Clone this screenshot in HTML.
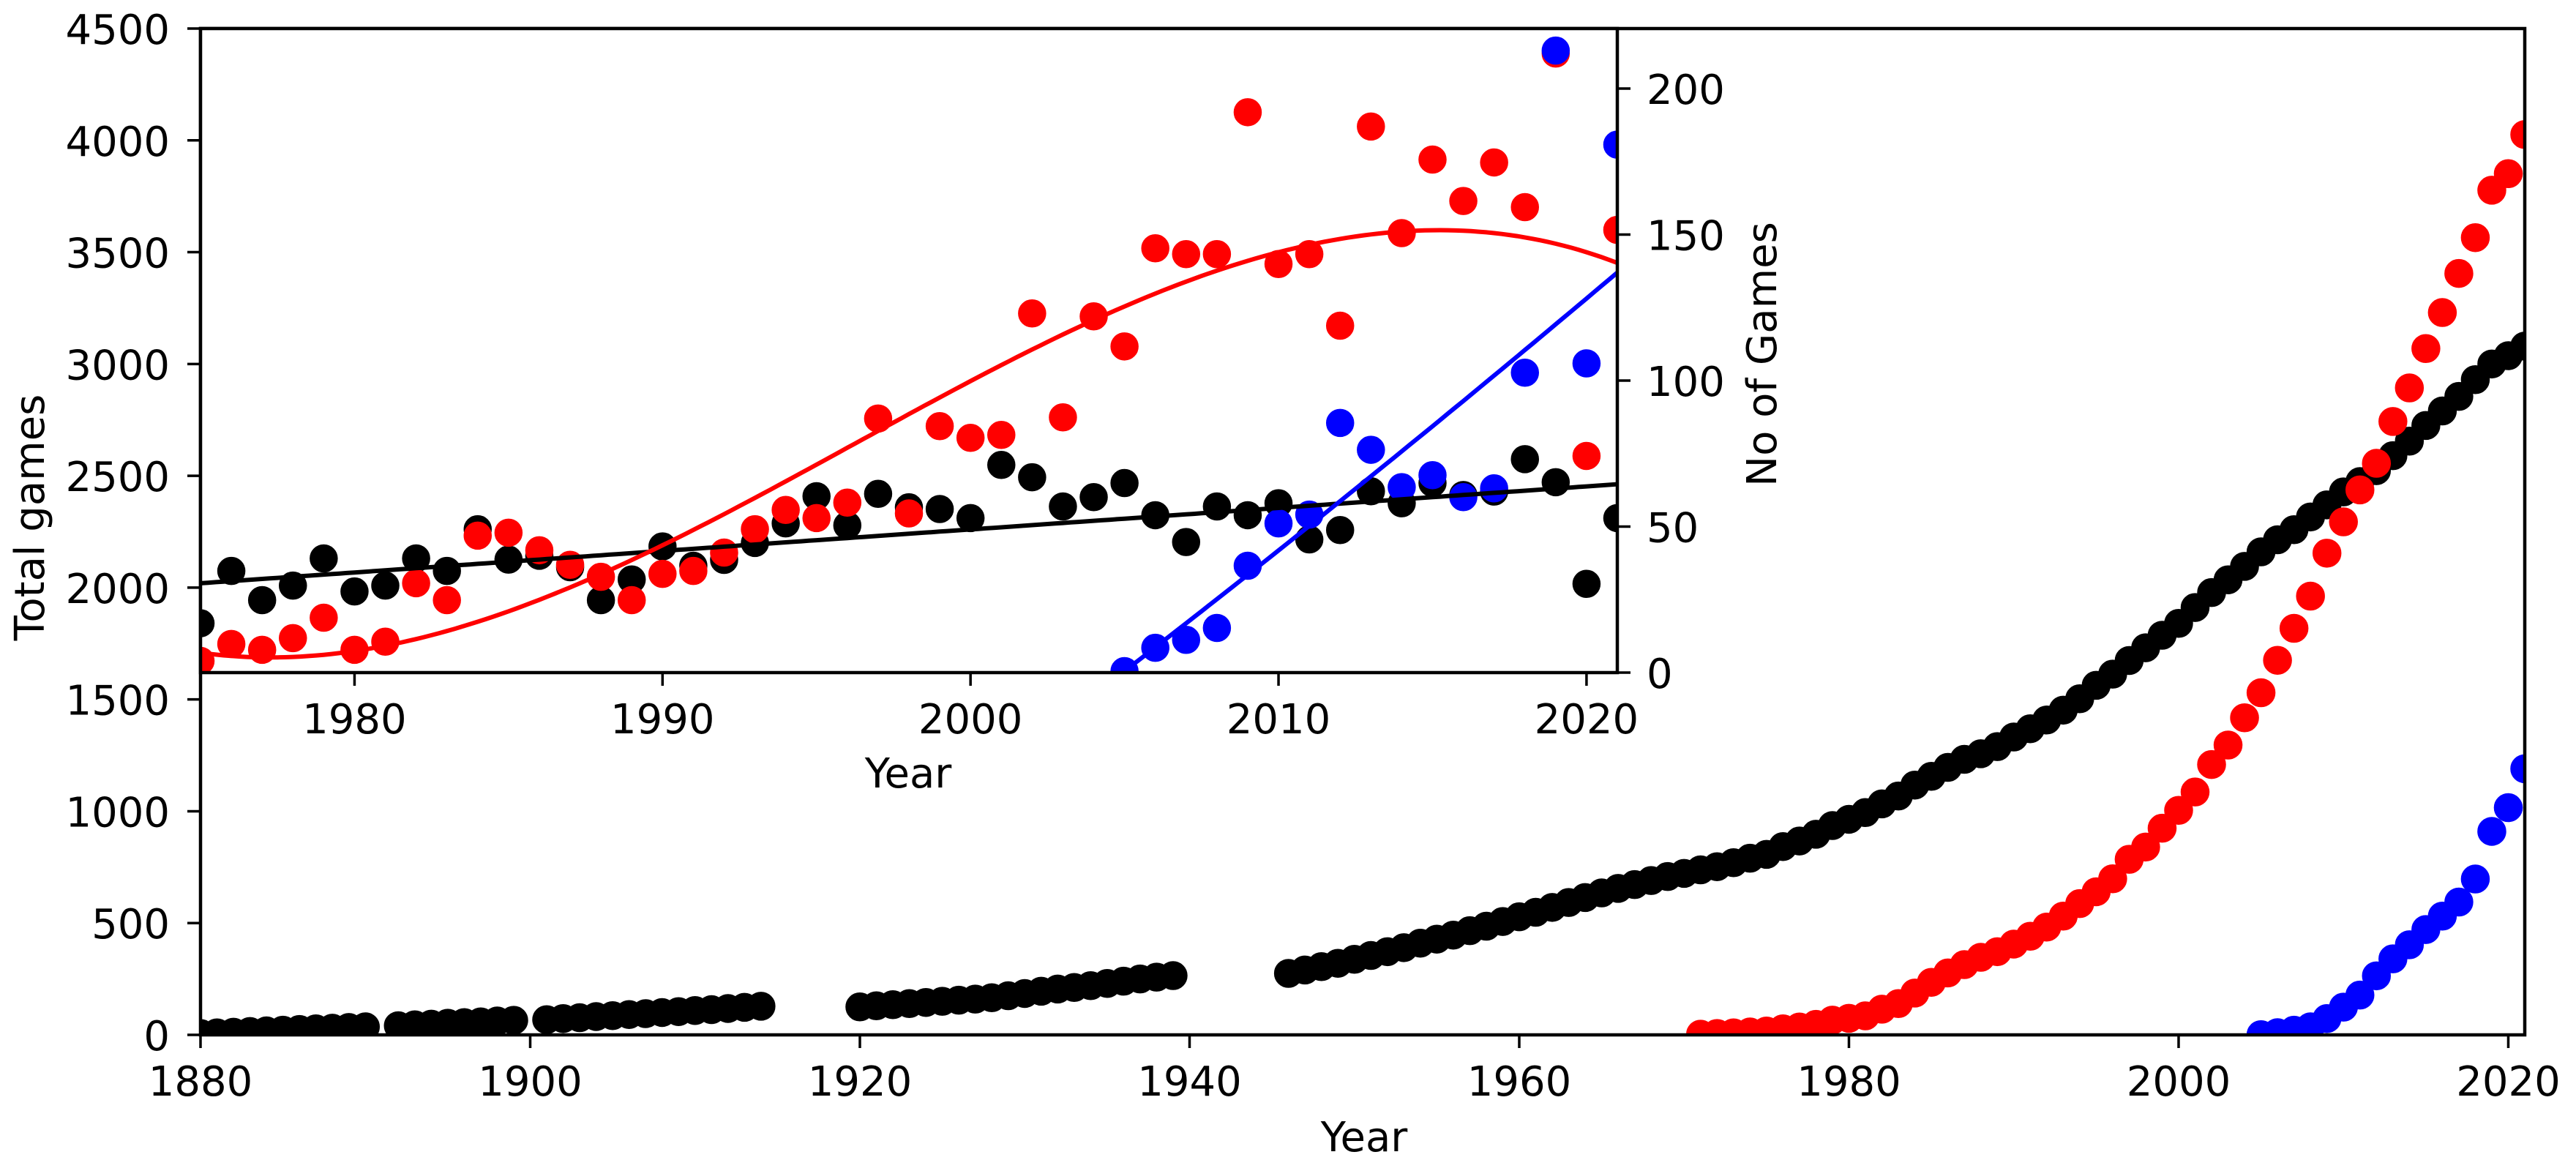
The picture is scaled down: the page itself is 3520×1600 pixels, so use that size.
<!DOCTYPE html>
<html><head><meta charset="utf-8"><style>
html,body{margin:0;padding:0;background:#fff;}
svg{display:block;font-family:"DejaVu Sans","Liberation Sans",sans-serif;}
</style></head><body>
<svg id="chart" width="3520" height="1600" viewBox="0 0 3520 1600" xmlns="http://www.w3.org/2000/svg">
<defs>
<clipPath id="mainClip"><rect x="274" y="39" width="3176" height="1375"/></clipPath>
<clipPath id="insetClip"><rect x="274" y="39" width="1936" height="880"/></clipPath>
</defs>
<rect x="0" y="0" width="3520" height="1600" fill="#fff"/>
<g id="main"></g>
<g id="inset"></g>
</svg>
<script>
// ---- main chart data (cumulative totals) ----
const blackYears = [];
const blackTotals = [6,9,12,15,18,21,24,27,30,33,36, 41,45,48,52,55,58,62,65,
 68,73,77,82,86,91,95,100,104,109,113,118,123,128,
 125,130,135,140,145,150,155,160,166,175,185,195,205,212,220,230,240,250,258,265,
 275,290,305,320,338,355,372,390,410,428,446,466,486,507,528,548,570,592,614,635,655,672,690,708,722,738,752,770,790,
 807,842,867,897,936,964,994,1033,1068,1117,1156,1196,1232,1257,1289,1332,1369,1408,1452,1503,1563,1613,1674,1731,1787,
 1840,1911,1978,2035,2095,2160,2214,2259,2316,2370,2428,2474,2523,2590,2655,2725,2790,2855,2930,3000,3037,3080];
const blackRanges = [[1880,1890],[1892,1899],[1901,1914],[1920,1939],[1946,2021]];
for (const r of blackRanges) for (let y=r[0]; y<=r[1]; y++) blackYears.push(y);
const redStartYear = 1971;
const redTotals = [3,6,9,13,17,27,35,47,66,74,85,115,140,187,235,277,314,347,372,406,441,482,531,587,640,698,785,840,924,1004,1086,1209,1296,1418,1530,1675,1818,1962,2154,2294,2437,2556,2743,2893,3069,3230,3405,3565,3777,3851,4026];
const blueStartYear = 2005;
const blueTotals = [1,10,21,36,73,124,178,264,340,403,471,531,594,697,910,1016,1190];
const mainXTicks = [1880,1900,1920,1940,1960,1980,2000,2020];
const mainYTicks = [0,500,1000,1500,2000,2500,3000,3500,4000,4500];

// ---- inset data (annual counts) ----
const insetStartYear = 1975;
const blackCounts = [16.9,34.8,24.8,29.8,39.1,27.8,29.8,39.1,34.8,49.1,38.7,40,36.1,24.8,31.9,43.2,36.6,38.6,44.4,51.1,60.4,50.4,61.2,56.6,56,52.9,71.1,66.9,56.9,60.1,64.9,53.9,44.7,56.9,53.9,58,45.6,48.8,62.1,58,64.9,60.8,62,73.1,65.2,30.4,52.9];
const redCounts = [4,9.8,7.8,11.8,18.8,7.8,10.6,30.6,24.8,46.9,47.9,41.9,36.9,32.8,24.8,33.8,34.8,41.1,49.1,55.7,52.9,58.2,87,54.5,84.4,80.4,81.4,123,87.4,122,111.7,145.3,143.3,143.3,191.9,139.9,143.3,118.8,187,150.5,175.7,161.5,174.7,159.4,212,74.2,151.6];
const blueCountStart = 2005;
const blueCounts = [0.5,8.5,11.2,15.3,36.6,51.1,54.1,85.5,76.3,63.5,67.6,60.1,63.1,102.7,213,105.9,180.8];
const blackFit = [[1975,30.6],[2021,64.5]];
const redFitPts = [[1975,6.8],[1990,43.6],[2005,125.4],[2021,140.3]];
const blueFitPts = [[2005,0.5],[2012,58.7],[2021,137]];
const insetXTicks = [1980,1990,2000,2010,2020];
const insetYTicks = [0,50,100,150,200];

const NS="http://www.w3.org/2000/svg";
const FS=56;
function mk(tag, attrs, parent){const e=document.createElementNS(NS,tag);for(const k in attrs)e.setAttribute(k,attrs[k]);parent.appendChild(e);return e;}

// main axes
const mx = y => 274 + (y-1880)*(3176/141);
const my = v => 1414 - v*(1375/4500);
const main = document.getElementById('main');
const mdots = mk('g',{'clip-path':'url(#mainClip)'},main);
function mdot(x,y,c,name){const d=mk('circle',{cx:x,cy:y,r:19,fill:c,stroke:c,'stroke-width':1.5},mdots);

}
blackYears.forEach((yr,i)=>mdot(mx(yr),my(blackTotals[i]),'#000','total-games-point'));
redTotals.forEach((v,i)=>mdot(mx(redStartYear+i),my(v),'#ff0000','red-series-total-point'));
blueTotals.forEach((v,i)=>mdot(mx(blueStartYear+i),my(v),'#0000ff','blue-series-total-point'));
const mframe = mk('rect',{x:274,y:39,width:3176,height:1375,fill:'none',stroke:'#000','stroke-width':4.5},main);


mainXTicks.forEach(t=>{const x=mx(t);
 mk('line',{x1:x,y1:1414,x2:x,y2:1432,stroke:'#000','stroke-width':3.5},main);
 const tx=mk('text',{x:x,y:1497,'font-size':FS,'text-anchor':'middle'},main);tx.textContent=t;
 
 });
mainYTicks.forEach(t=>{const y=my(t);
 mk('line',{x1:256,y1:y,x2:274,y2:y,stroke:'#000','stroke-width':3.5},main);
 const tx=mk('text',{x:232,y:y+21,'font-size':FS,'text-anchor':'end'},main);tx.textContent=t;
 
 });
const mxl=mk('text',{x:1864,y:1573,'font-size':FS,'text-anchor':'middle'},main);mxl.textContent='Year';


const myl=mk('text',{x:0,y:0,'font-size':FS,'text-anchor':'middle',transform:'translate(60,707) rotate(-90)'},main);myl.textContent='Total games';



// inset
const ix = y => 274 + (y-1975)*(1936/46);
const iy = v => 919 - v*3.99;
const inset = document.getElementById('inset');
mk('rect',{x:274,y:39,width:1936,height:880,fill:'#fff'},inset);
const idots = mk('g',{'clip-path':'url(#insetClip)'},inset);
function idot(x,y,c,name){const d=mk('circle',{cx:x,cy:y,r:18.5,fill:c,stroke:c,'stroke-width':1.5},idots);

}
function lagr(pts,x){let s=0;for(let i=0;i<pts.length;i++){let p=pts[i][1];for(let j=0;j<pts.length;j++){if(j!==i)p*=(x-pts[j][0])/(pts[i][0]-pts[j][0]);}s+=p;}return s;}
function fitPath(pts,x0,x1,c,name){let d='';for(let x=x0;x<=x1+1e-9;x+=0.25){d+=(d?'L':'M')+ix(x).toFixed(1)+','+iy(lagr(pts,x)).toFixed(1);}
 const p=mk('path',{d:d,fill:'none',stroke:c,'stroke-width':6},idots);
 
 }
blackCounts.forEach((v,i)=>idot(ix(insetStartYear+i),iy(v),'#000','black-count-point'));
redCounts.forEach((v,i)=>idot(ix(insetStartYear+i),iy(v),'#ff0000','red-count-point'));
blueCounts.forEach((v,i)=>idot(ix(blueCountStart+i),iy(v),'#0000ff','blue-count-point'));
fitPath(blackFit,1975,2021,'#000','black-fit-line');
fitPath(redFitPts,1975,2021,'#ff0000','red-fit-curve');
fitPath(blueFitPts,2005,2021,'#0000ff','blue-fit-curve');
const iframe=mk('rect',{x:274,y:39,width:1936,height:880,fill:'none',stroke:'#000','stroke-width':4.5},inset);


insetXTicks.forEach(t=>{const x=ix(t);
 mk('line',{x1:x,y1:919,x2:x,y2:937,stroke:'#000','stroke-width':3.5},inset);
 const tx=mk('text',{x:x,y:1002,'font-size':FS,'text-anchor':'middle'},inset);tx.textContent=t;
 
 });
insetYTicks.forEach(t=>{const y=iy(t);
 mk('line',{x1:2210,y1:y,x2:2228,y2:y,stroke:'#000','stroke-width':3.5},inset);
 const tx=mk('text',{x:2250,y:y+21,'font-size':FS,'text-anchor':'start'},inset);tx.textContent=t;
 
 });
const ixl=mk('text',{x:1241,y:1076,'font-size':FS,'text-anchor':'middle'},inset);ixl.textContent='Year';


const iyl=mk('text',{x:0,y:0,'font-size':FS,'text-anchor':'middle',transform:'translate(2427,484) rotate(-90)'},inset);iyl.textContent='No of Games';


</script>
</body></html>
